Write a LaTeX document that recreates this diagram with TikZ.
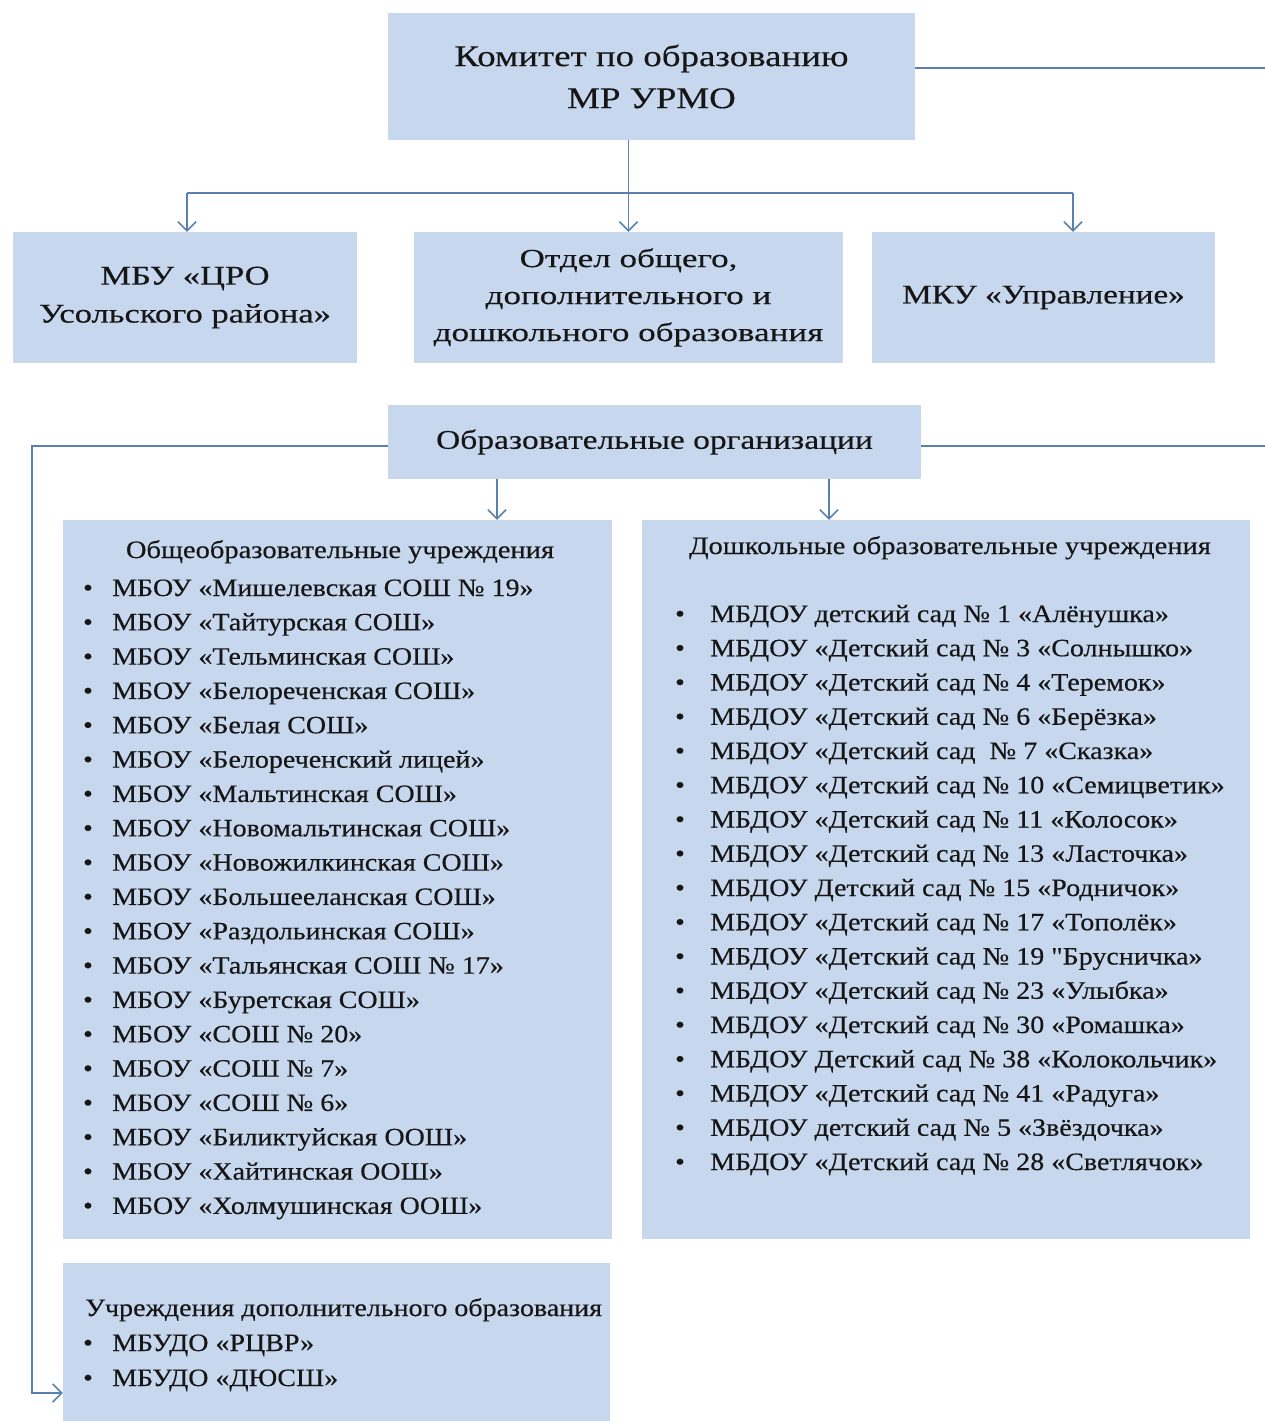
\documentclass[tikz,border=0pt]{standalone}
\usepackage{fontspec}
\setmainfont{Liberation Serif}
\newfontfamily\fkom{Liberation Serif}[FakeStretch=1.23,FakeBold=0.3]
\newfontfamily\fmbu{Liberation Serif}[FakeStretch=1.28,FakeBold=0.3]
\newfontfamily\fotd{Liberation Serif}[FakeStretch=1.35,FakeBold=0.3]
\newfontfamily\fobr{Liberation Serif}[FakeStretch=1.24,FakeBold=0.3]
\newfontfamily\fhead{Liberation Serif}[FakeStretch=1.14,FakeBold=0.3]
\newfontfamily\flst{Liberation Serif}[FakeStretch=1.12,FakeBold=0.3]
\usetikzlibrary{arrows.meta}
\definecolor{boxfill}{HTML}{C6D7EE}
\definecolor{linecol}{HTML}{5B7EB3}
\definecolor{txt}{HTML}{161616}
\tikzset{
  box/.style={fill=boxfill, draw=none, inner sep=0pt, align=center, text=txt},
  conn/.style={draw=linecol, line width=1.8pt},
  arr/.style={conn, -{Straight Barb[length=9pt,width=18pt,line width=1.6pt]}},
  listfont/.style={font=\flst\fontsize{25}{30}\selectfont, text=txt, inner sep=0pt},
  headfont/.style={font=\fhead\fontsize{25}{30}\selectfont, text=txt, inner sep=0pt},
  itemtext/.style={listfont, anchor=base west},
  bul/.style={listfont, anchor=base},
}
\begin{document}
\begin{tikzpicture}[x=1pt,y=-1pt]
\useasboundingbox (0,0) rectangle (1265,1421);

% boxes
\node[box, minimum width=527pt, minimum height=127pt, font=\fkom\fontsize{30}{42}\selectfont] (kom) at (651.5,76.5) {Комитет по образованию\\МР УРМО};
\node[box, minimum width=344pt, minimum height=131pt, font=\fmbu\fontsize{27}{38}\selectfont] (mbu) at (185,297.5) {МБУ «ЦРО\\Усольского района»};
\node[box, minimum width=429pt, minimum height=131pt, font=\fotd\fontsize{26}{37}\selectfont] (otd) at (628.5,297.5) {Отдел общего,\\дополнительного и\\дошкольного образования};
\node[box, minimum width=343pt, minimum height=131pt, font=\fkom\fontsize{27}{38}\selectfont] (mku) at (1043.5,297.5) {МКУ «Управление»};
\node[box, minimum width=533pt, minimum height=74pt, font=\fobr\fontsize{27}{38}\selectfont] (obr) at (654.5,442) {Образовательные организации};
\node[box, minimum width=549pt, minimum height=719pt] (obs) at (337.5,879.5) {};
\node[box, minimum width=608pt, minimum height=719pt] (dosh) at (946,879.5) {};
\node[box, minimum width=547pt, minimum height=158pt] (udo) at (336.5,1342) {};

% connectors
\coordinate (b1) at (187,193);
\coordinate (b3) at (1073,193);
\coordinate (kR) at (1265,68);
\coordinate (o1) at (497,0);
\coordinate (o2) at (829,0);
\coordinate (oR) at (1265,446);
\coordinate (oL) at (32,446);
\coordinate (uL) at (32,1393);

\draw[conn] (kom.east |- kR) -- (kR);
\draw[arr] (kom.south -| otd.north) -- (otd.north);
\draw[conn] (b1) -- (b3);
\draw[arr] (b1) -- (b1 |- mbu.north);
\draw[arr] (b3) -- (b3 |- mku.north);
\draw[conn] (obr.east |- oR) -- (oR);
\draw[arr] (obr.south -| o1) -- (obs.north -| o1);
\draw[arr] (obr.south -| o2) -- (dosh.north -| o2);
\draw[arr] (obr.west |- oL) -- (oL) -- (uL) -- (udo.west |- uL);

% list A
\node[headfont, anchor=base] (ha) at (340,558) {Общеобразовательные учреждения};
\foreach \t [count=\i] in {
  МБОУ «Мишелевская СОШ № 19»,
  МБОУ «Тайтурская СОШ»,
  МБОУ «Тельминская СОШ»,
  МБОУ «Белореченская СОШ»,
  МБОУ «Белая СОШ»,
  МБОУ «Белореченский лицей»,
  МБОУ «Мальтинская СОШ»,
  МБОУ «Новомальтинская СОШ»,
  МБОУ «Новожилкинская СОШ»,
  МБОУ «Большееланская СОШ»,
  МБОУ «Раздольинская СОШ»,
  МБОУ «Тальянская СОШ № 17»,
  МБОУ «Буретская СОШ»,
  МБОУ «СОШ № 20»,
  МБОУ «СОШ № 7»,
  МБОУ «СОШ № 6»,
  МБОУ «Биликтуйская ООШ»,
  МБОУ «Хайтинская ООШ»,
  МБОУ «Холмушинская ООШ»}{
  \node[bul] (pa\i) at (88,{596+34.33*(\i-1)}) {•};
  \node[itemtext] (ta\i) at (112,{596+34.33*(\i-1)}) {\t};
}

% list B
\node[headfont, anchor=base] (hb) at (950,554) {Дошкольные образовательные учреждения};
\foreach \t [count=\i] in {
  МБДОУ детский сад № 1 «Алёнушка»,
  МБДОУ «Детский сад № 3 «Солнышко»,
  МБДОУ «Детский сад № 4 «Теремок»,
  МБДОУ «Детский сад № 6 «Берёзка»,
  МБДОУ «Детский сад \ № 7 «Сказка»,
  МБДОУ «Детский сад № 10 «Семицветик»,
  МБДОУ «Детский сад № 11 «Колосок»,
  МБДОУ «Детский сад № 13 «Ласточка»,
  МБДОУ Детский сад № 15 «Родничок»,
  МБДОУ «Детский сад № 17 «Тополёк»,
  МБДОУ «Детский сад № 19 "Брусничка»,
  МБДОУ «Детский сад № 23 «Улыбка»,
  МБДОУ «Детский сад № 30 «Ромашка»,
  МБДОУ Детский сад № 38 «Колокольчик»,
  МБДОУ «Детский сад № 41 «Радуга»,
  МБДОУ детский сад № 5 «Звёздочка»,
  МБДОУ «Детский сад № 28 «Светлячок»}{
  \node[bul] (pb\i) at (680,{622+34.25*(\i-1)}) {•};
  \node[itemtext] (tb\i) at (710,{622+34.25*(\i-1)}) {\t};
}

% list C
\node[listfont, anchor=base west] (hc) at (85,1316) {Учреждения дополнительного образования};
\node[bul] (pc1) at (88,1351) {•};
\node[itemtext] (tc1) at (112,1351) {МБУДО «РЦВР»};
\node[bul] (pc2) at (88,1386) {•};
\node[itemtext] (tc2) at (112,1386) {МБУДО «ДЮСШ»};
\end{tikzpicture}
\end{document}
